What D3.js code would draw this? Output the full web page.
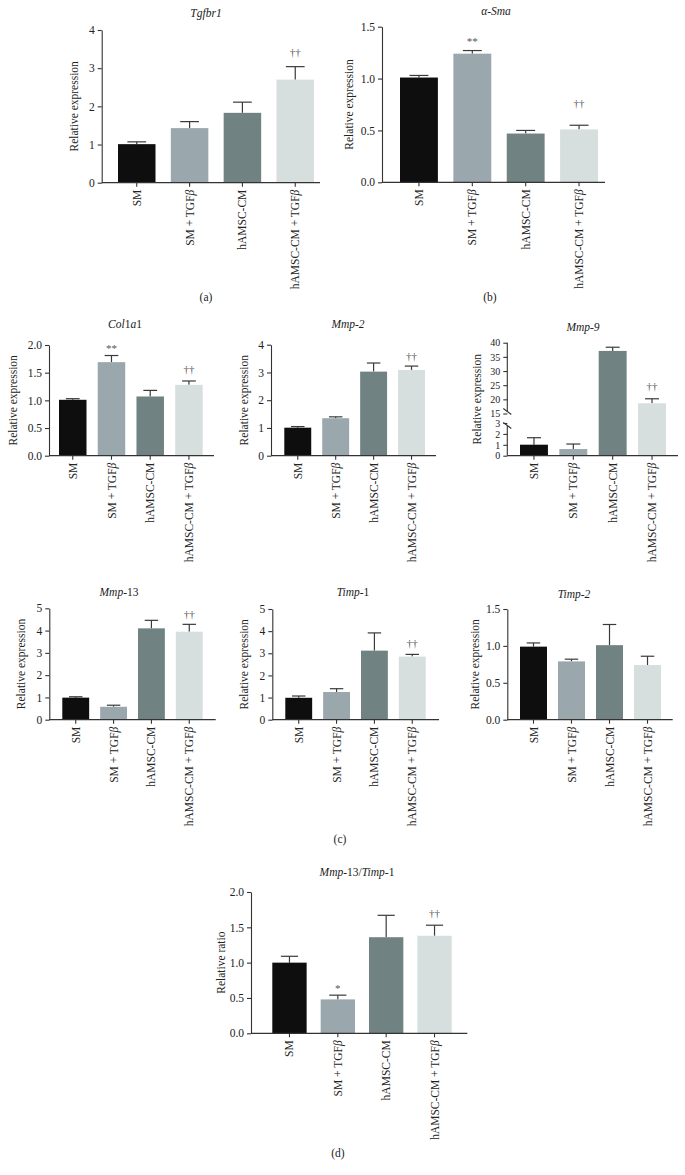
<!DOCTYPE html>
<html><head><meta charset="utf-8">
<script src="https://cdn.jsdelivr.net/npm/d3@7"></script>
<style>
html,body{margin:0;padding:0;background:#fff;}
svg{display:block;font-family:"Liberation Serif","Times New Roman",serif;}
</style></head>
<body>
<svg id="chart" width="685" height="1175"></svg>
<script>
// ---------- DATA ----------
const categories = ["SM", "SM + TGFβ", "hAMSC-CM", "hAMSC-CM + TGFβ"];

const tgfbr1Mean = [1.01, 1.43, 1.83, 2.70];
const tgfbr1Err  = [0.06, 0.17, 0.28, 0.34];
const tgfbr1Sig  = ["", "", "", "††"];
const tgfbr1SigAt = [null, null, null, 3.40];

const smaMean = [1.01, 1.24, 0.47, 0.51];
const smaErr  = [0.02, 0.03, 0.03, 0.04];
const smaSig  = ["", "**", "", "††"];
const smaSigAt = [null, 1.38, null, 0.76];

const col1a1Mean = [1.01, 1.69, 1.07, 1.28];
const col1a1Err  = [0.02, 0.12, 0.11, 0.07];
const col1a1Sig  = ["", "**", "", "††"];
const col1a1SigAt = [null, 1.98, null, 1.55];

const mmp2Mean = [1.01, 1.35, 3.03, 3.09];
const mmp2Err  = [0.04, 0.05, 0.31, 0.14];
const mmp2Sig  = ["", "", "", "††"];
const mmp2SigAt = [null, null, null, 3.57];

const mmp9Mean = [1.01, 0.61, 37.1, 18.6];
const mmp9Err  = [0.64, 0.46, 1.3, 1.6];
const mmp9Sig  = ["", "", "", "††"];
const mmp9SigAt = [null, null, null, 24.4];

const mmp13Mean = [0.99, 0.58, 4.10, 3.95];
const mmp13Err  = [0.04, 0.07, 0.36, 0.33];
const mmp13Sig  = ["", "", "", "††"];
const mmp13SigAt = [null, null, null, 4.73];

const timp1Mean = [0.99, 1.25, 3.12, 2.85];
const timp1Err  = [0.08, 0.15, 0.80, 0.10];
const timp1Sig  = ["", "", "", "††"];
const timp1SigAt = [null, null, null, 3.42];

const timp2Mean = [0.99, 0.79, 1.01, 0.74];
const timp2Err  = [0.05, 0.03, 0.28, 0.12];
const timp2Sig  = ["", "", "", ""];
const timp2SigAt = [null, null, null, null];

const ratioMean = [1.00, 0.48, 1.36, 1.38];
const ratioErr  = [0.09, 0.06, 0.31, 0.15];
const ratioSig  = ["", "*", "", "††"];
const ratioSigAt = [null, 0.67, null, 1.70];

const ticks0to4 = [0, 1, 2, 3, 4];
const ticks0to5 = [0, 1, 2, 3, 4, 5];
const ticks0to15 = [0, 0.5, 1.0, 1.5];
const ticks0to2 = [0, 0.5, 1.0, 1.5, 2.0];
const mmp9LowerTicks = [0, 1, 2, 3];
const mmp9UpperTicks = [15, 20, 25, 30, 35, 40];

// ---------- STYLE ----------
const barColors = ["#0e0e0e", "#9aa8ae", "#718282", "#d6dfde"];
const axisColor = "#333";
const FS = 11.5;
const pad = 0.29;

const svg = d3.select("#chart");

function italicBeta(sel) {
  sel.each(function () {
    const t = d3.select(this);
    const s = t.text();
    if (s.endsWith("β")) {
      t.text(s.slice(0, -1));
      t.append("tspan").style("font-style", "italic").text("β");
    }
  });
}

function drawPanel(L, D) {
  const g = svg.append("g");
  let yFn, y0;
  if (L.broken) {
    const lower = d3.scaleLinear().domain([0, 3]).range([L.y0, L.lowerTop]);
    const upper = d3.scaleLinear().domain([15, 40]).range([L.upperBottom, L.yTop]);
    yFn = v => v <= 3 ? lower(v) : upper(v);
    y0 = L.y0;
    const ax1 = g.append("g").attr("transform", `translate(${L.axisX},0)`)
      .call(d3.axisLeft(lower).tickValues(mmp9LowerTicks).tickSize(4).tickSizeOuter(0).tickFormat(d3.format("d")));
    const ax2 = g.append("g").attr("transform", `translate(${L.axisX},0)`)
      .call(d3.axisLeft(upper).tickValues(mmp9UpperTicks).tickSize(4).tickSizeOuter(0).tickFormat(d3.format("d")));
    [ax1, ax2].forEach(a => {
      a.select(".domain").remove();
      a.selectAll("line").attr("stroke", axisColor).attr("stroke-width", 1.1);
      a.selectAll("text").attr("font-size", 10).attr("fill", "#222").attr("font-family", "Liberation Serif");
    });
    const gapTop = L.upperBottom - 2, gapBot = L.lowerTop + 2.5;
    g.append("line").attr("x1", L.axisX).attr("x2", L.axisX).attr("y1", L.yTop).attr("y2", gapTop)
      .attr("stroke", axisColor).attr("stroke-width", 1.1);
    g.append("line").attr("x1", L.axisX).attr("x2", L.axisX).attr("y1", gapBot).attr("y2", L.y0)
      .attr("stroke", axisColor).attr("stroke-width", 1.1);
    [gapTop, gapBot].forEach(yy => {
      g.append("line").attr("x1", L.axisX - 4).attr("y1", yy - 3).attr("x2", L.axisX + 4).attr("y2", yy + 3)
        .attr("stroke", axisColor).attr("stroke-width", 1.1);
    });
  } else {
    const y = d3.scaleLinear().domain([0, L.max]).range([L.y0, L.yTop]);
    yFn = y;
    y0 = L.y0;
    const ax = g.append("g").attr("transform", `translate(${L.axisX},0)`)
      .call(d3.axisLeft(y).tickValues(L.ticks).tickSize(4).tickSizeOuter(0).tickFormat(d3.format(L.fmt)));
    ax.select(".domain").attr("stroke", axisColor).attr("stroke-width", 1.1);
    ax.selectAll("line").attr("stroke", axisColor).attr("stroke-width", 1.1);
    ax.selectAll("text").attr("font-size", FS).attr("fill", "#222").attr("font-family", "Liberation Serif");
  }

  const step = (L.barEnd - L.barStart) / (categories.length - pad);
  const x = d3.scaleBand().domain(categories)
    .range([L.barStart - step * pad / 2, L.barEnd + step * pad / 2])
    .paddingInner(pad).paddingOuter(pad / 2);
  const bw = x.bandwidth();

  const rows = categories.map((c, i) => ({ c, i, m: D.mean[i], e: D.err[i], s: D.sig[i], sa: D.sigAt[i] }));
  const eg = g.append("g");
  rows.forEach(r => {
    const cx = x(r.c) + bw / 2;
    eg.append("line").attr("x1", cx).attr("x2", cx).attr("y1", yFn(r.m)).attr("y2", yFn(r.m + r.e))
      .attr("stroke", "#3a3a3a").attr("stroke-width", 1.2);
    eg.append("line").attr("x1", cx - bw * 0.25).attr("x2", cx + bw * 0.25)
      .attr("y1", yFn(r.m + r.e)).attr("y2", yFn(r.m + r.e))
      .attr("stroke", "#3a3a3a").attr("stroke-width", 1.2);
  });
  g.append("g").selectAll("rect").data(rows).join("rect")
    .attr("x", d => x(d.c)).attr("width", bw)
    .attr("y", d => yFn(d.m)).attr("height", d => y0 - yFn(d.m))
    .attr("fill", d => barColors[d.i]);

  rows.filter(r => r.s).forEach(r => {
    const cx = x(r.c) + bw / 2;
    const off = r.s.includes("*") ? 6 : 3.5;
    g.append("text").attr("x", cx).attr("y", yFn(r.sa) + off).attr("text-anchor", "middle")
      .attr("font-size", 11).attr("fill", "#555").text(r.s);
  });

  g.append("line").attr("x1", L.axisX).attr("x2", L.lineEnd).attr("y1", y0).attr("y2", y0)
    .attr("stroke", axisColor).attr("stroke-width", 1.2);
  const xa = g.append("g").attr("transform", `translate(0,${y0})`)
    .call(d3.axisBottom(x).tickSize(4).tickSizeOuter(0));
  xa.select(".domain").remove();
  xa.selectAll("line").attr("stroke", axisColor).attr("stroke-width", 1.1);
  xa.selectAll("text")
    .attr("transform", "rotate(-90)")
    .attr("x", -7).attr("y", 0).attr("dy", "0.35em")
    .attr("text-anchor", "end")
    .attr("font-size", FS).attr("fill", "#222").attr("font-family", "Liberation Serif")
    .call(italicBeta);

  g.append("text")
    .attr("transform", `translate(${L.labelX},${(L.y0 + L.yTop) / 2}) rotate(-90)`)
    .attr("text-anchor", "middle").attr("dy", "0.35em")
    .attr("font-size", FS).attr("fill", "#222").text(L.ylabel || "Relative expression");

  const t = g.append("text").attr("x", L.titleX).attr("y", L.titleY).attr("text-anchor", "middle")
    .attr("font-size", 11.5).attr("fill", "#222");
  L.title.forEach(([s, it]) => t.append("tspan").style("font-style", it ? "italic" : "normal").text(s));
}

// ---------- LAYOUT ----------
drawPanel({ axisX: 101.7, barStart: 118, barEnd: 314, lineEnd: 320, y0: 182.7, yTop: 30, max: 4, ticks: ticks0to4, fmt: "d",
  labelX: 74, titleX: 206, titleY: 17, title: [["Tgfbr1", true]] },
  { mean: tgfbr1Mean, err: tgfbr1Err, sig: tgfbr1Sig, sigAt: tgfbr1SigAt });

drawPanel({ axisX: 382, barStart: 400, barEnd: 598, lineEnd: 605, y0: 182.3, yTop: 26.7, max: 1.5, ticks: ticks0to15, fmt: ".1f",
  labelX: 349, titleX: 496, titleY: 15, title: [["α-Sma", true]] },
  { mean: smaMean, err: smaErr, sig: smaSig, sigAt: smaSigAt });

drawPanel({ axisX: 49, barStart: 59, barEnd: 202.7, lineEnd: 214, y0: 455.7, yTop: 345, max: 2, ticks: ticks0to2, fmt: ".1f",
  labelX: 13, titleX: 125, titleY: 328, title: [["Col", true], ["1", false], ["a", true], ["1", false]] },
  { mean: col1a1Mean, err: col1a1Err, sig: col1a1Sig, sigAt: col1a1SigAt });

drawPanel({ axisX: 271, barStart: 284.3, barEnd: 425, lineEnd: 436, y0: 455.7, yTop: 344.7, max: 4, ticks: ticks0to4, fmt: "d",
  labelX: 244, titleX: 348, titleY: 328, title: [["Mmp-2", true]] },
  { mean: mmp2Mean, err: mmp2Err, sig: mmp2Sig, sigAt: mmp2SigAt });

drawPanel({ broken: true, axisX: 507.3, barStart: 520, barEnd: 666, lineEnd: 678, y0: 455.7, lowerTop: 423, upperBottom: 413.5, yTop: 342.7,
  labelX: 477, titleX: 583, titleY: 331, title: [["Mmp-9", true]] },
  { mean: mmp9Mean, err: mmp9Err, sig: mmp9Sig, sigAt: mmp9SigAt });

drawPanel({ axisX: 49.3, barStart: 62.3, barEnd: 202.7, lineEnd: 215.7, y0: 719.7, yTop: 608.3, max: 5, ticks: ticks0to5, fmt: "d",
  labelX: 21, titleX: 119, titleY: 596, title: [["Mmp", true], ["-13", false]] },
  { mean: mmp13Mean, err: mmp13Err, sig: mmp13Sig, sigAt: mmp13SigAt });

drawPanel({ axisX: 272.3, barStart: 285.3, barEnd: 425.7, lineEnd: 439, y0: 719.7, yTop: 609, max: 5, ticks: ticks0to5, fmt: "d",
  labelX: 244, titleX: 353, titleY: 596, title: [["Timp", true], ["-1", false]] },
  { mean: timp1Mean, err: timp1Err, sig: timp1Sig, sigAt: timp1SigAt });

drawPanel({ axisX: 507.3, barStart: 520, barEnd: 661, lineEnd: 672.7, y0: 719.7, yTop: 609, max: 1.5, ticks: ticks0to15, fmt: ".1f",
  labelX: 475, titleX: 574, titleY: 598, title: [["Timp-2", true]] },
  { mean: timp2Mean, err: timp2Err, sig: timp2Sig, sigAt: timp2SigAt });

drawPanel({ axisX: 251, barStart: 272.3, barEnd: 451.7, lineEnd: 467.3, y0: 1033.3, yTop: 892, max: 2, ticks: ticks0to2, fmt: ".1f",
  labelX: 221, ylabel: "Relative ratio", titleX: 357, titleY: 876,
  title: [["Mmp", true], ["-13/", false], ["Timp", true], ["-1", false]] },
  { mean: ratioMean, err: ratioErr, sig: ratioSig, sigAt: ratioSigAt });

[["(a)", 206, 301], ["(b)", 490, 301], ["(c)", 340, 843], ["(d)", 338, 1157]].forEach(([s, x, y]) => {
  svg.append("text").attr("x", x).attr("y", y).attr("text-anchor", "middle")
    .attr("font-size", FS).attr("fill", "#222").text(s);
});
</script>
</body></html>
